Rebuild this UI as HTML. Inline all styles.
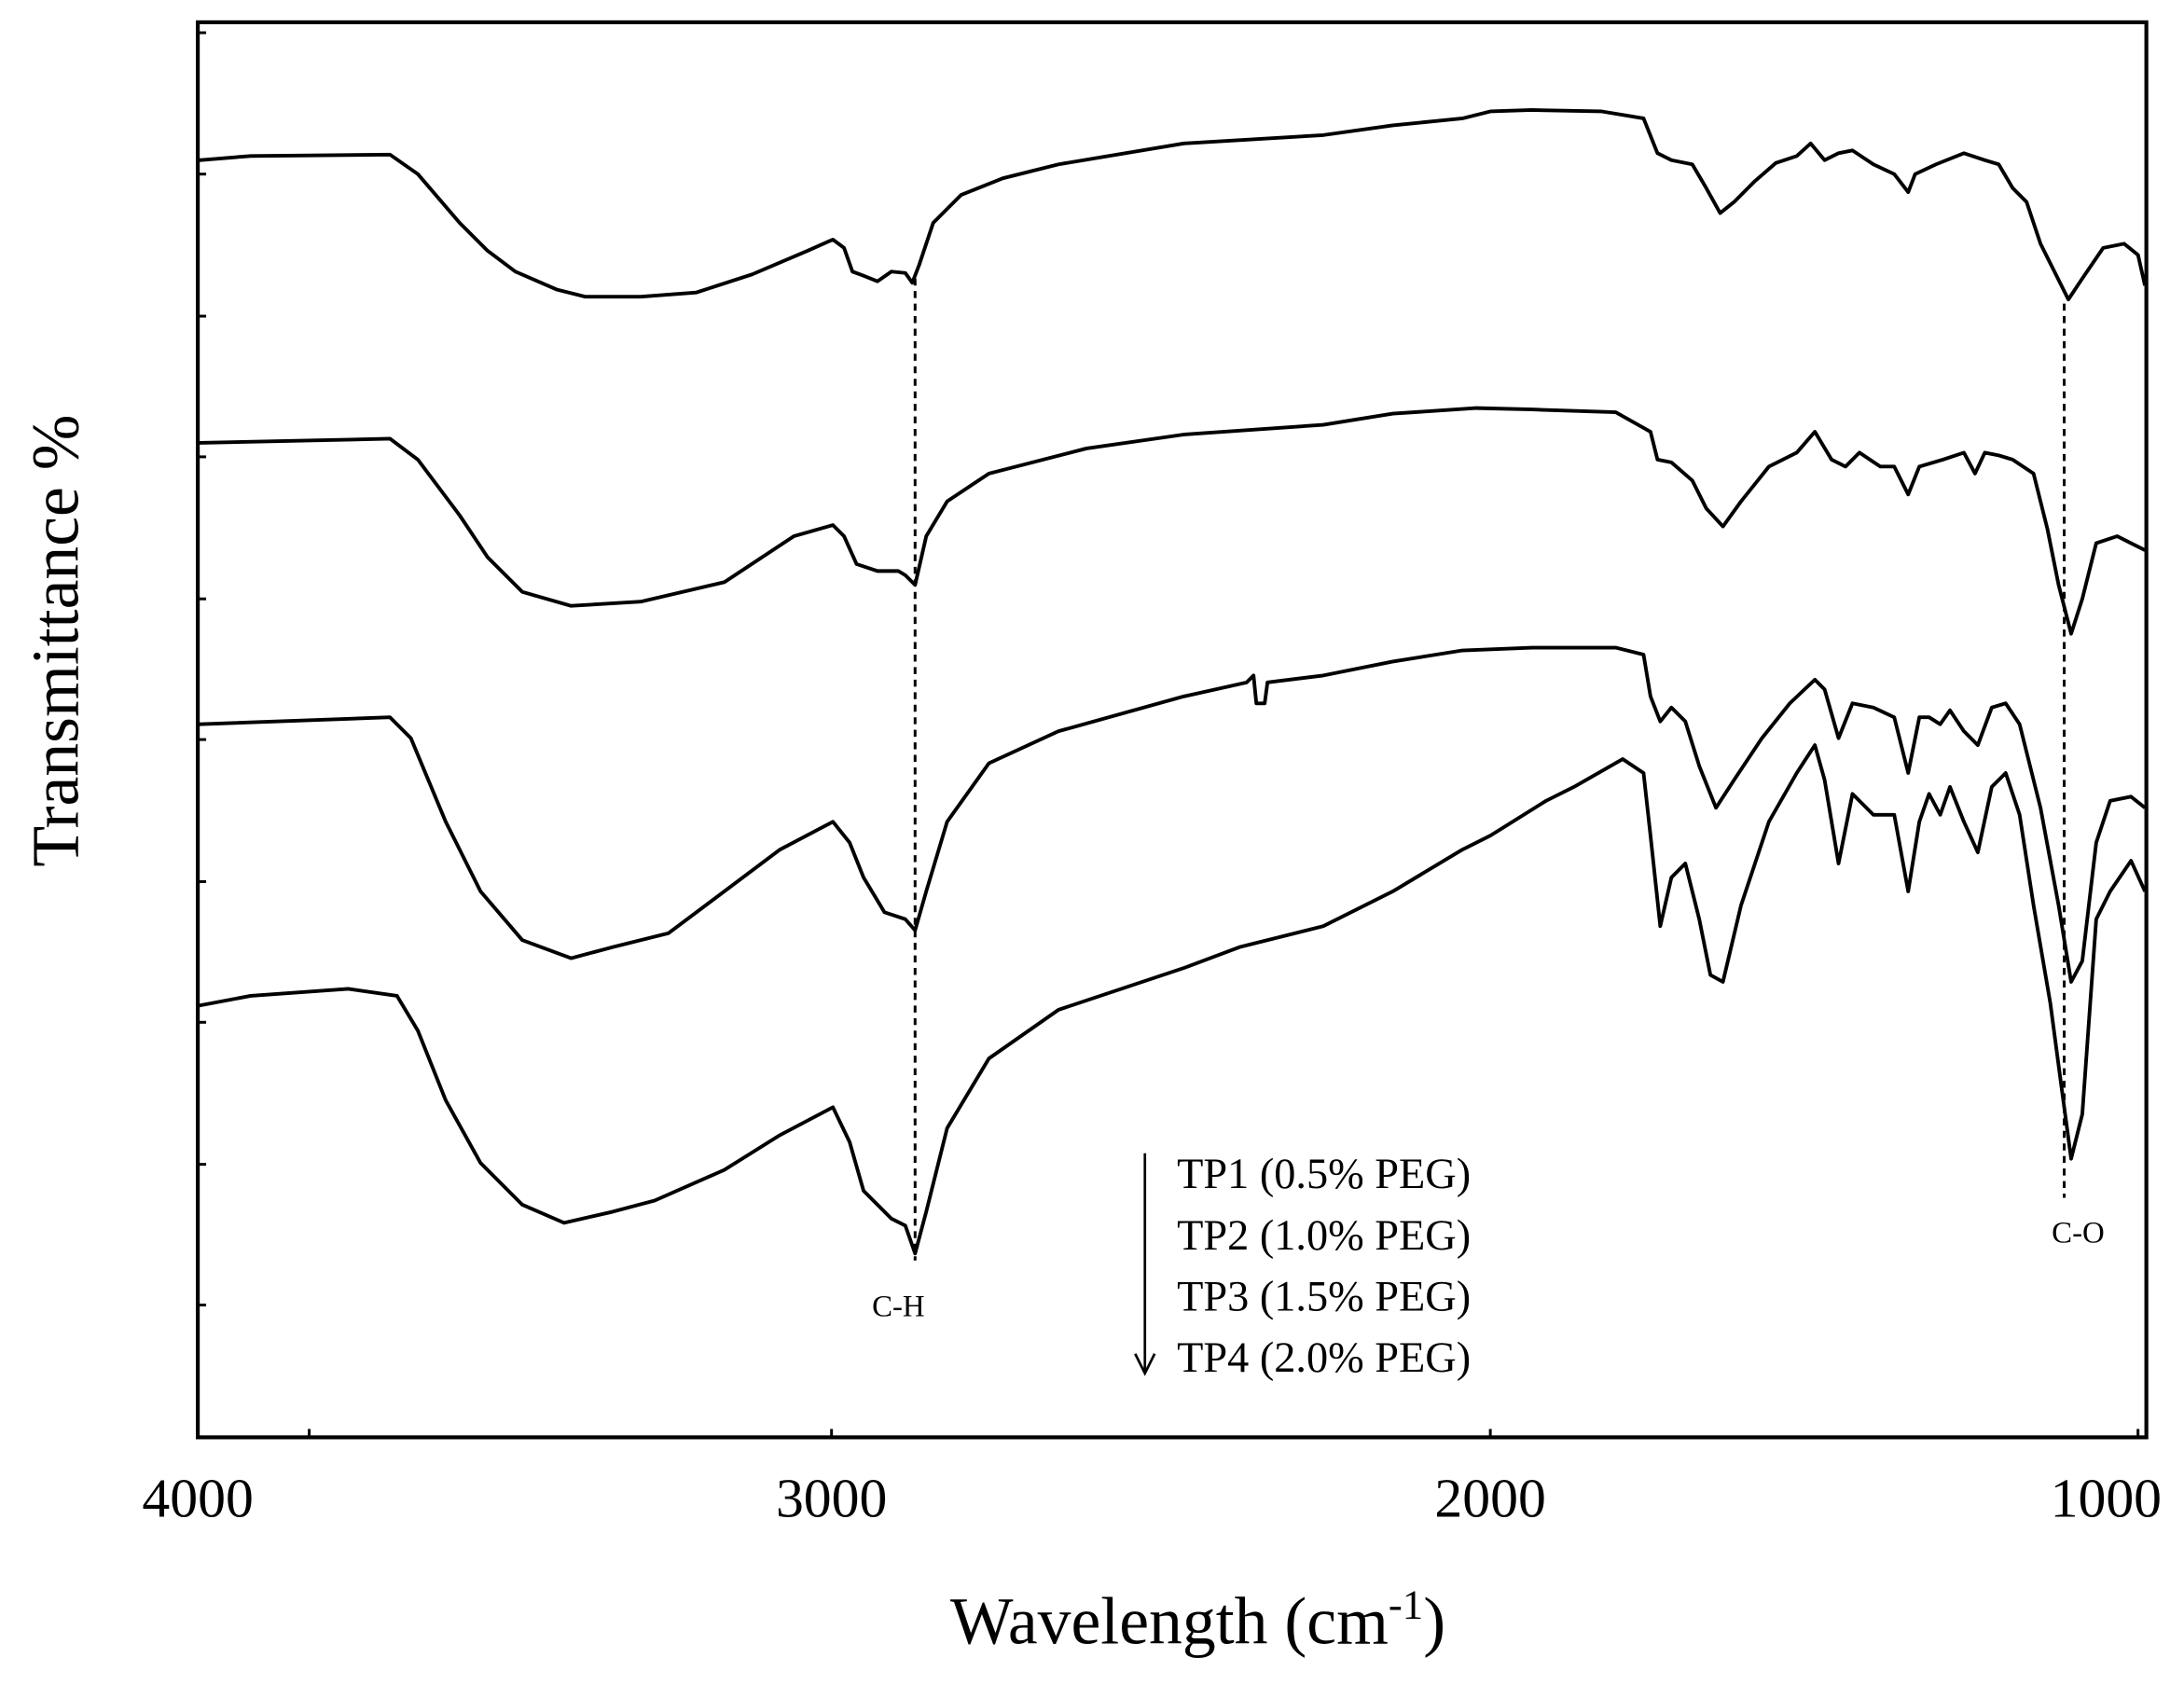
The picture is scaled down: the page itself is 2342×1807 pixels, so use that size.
<!DOCTYPE html>
<html><head><meta charset="utf-8"><style>html,body{margin:0;padding:0;background:#fff}svg{display:block}</style></head>
<body>
<svg width="2342" height="1807" viewBox="0 0 2342 1807" xmlns="http://www.w3.org/2000/svg">
<rect width="2342" height="1807" fill="#fff"/>
<g transform="scale(1.4936)" font-family="'Liberation Serif', serif" fill="#000">
<rect x="142" y="16" width="1399" height="1016" fill="none" stroke="#000" stroke-width="2.8"/>
<g stroke="#000" stroke-width="2">
<line x1="142" y1="23.5" x2="148" y2="23.5"/><line x1="142" y1="125" x2="148" y2="125"/><line x1="142" y1="227" x2="148" y2="227"/><line x1="142" y1="328" x2="148" y2="328"/><line x1="142" y1="430" x2="148" y2="430"/><line x1="142" y1="531" x2="148" y2="531"/><line x1="142" y1="633" x2="148" y2="633"/><line x1="142" y1="734" x2="148" y2="734"/><line x1="142" y1="836" x2="148" y2="836"/><line x1="142" y1="937" x2="148" y2="937"/>
<line x1="597" y1="1032" x2="597" y2="1026"/><line x1="1070" y1="1032" x2="1070" y2="1026"/><line x1="1535" y1="1032" x2="1535" y2="1026"/><line x1="222" y1="1032" x2="222" y2="1026"/>
</g>
<g font-size="40" text-anchor="middle">
<text x="142" y="1089">4000</text><text x="597" y="1089">3000</text><text x="1070" y="1089">2000</text><text x="1512" y="1089">1000</text>
</g>
<text x="860" y="1180" font-size="48" text-anchor="middle">Wavelength (cm<tspan font-size="30" dy="-18">-1</tspan><tspan dy="18">)</tspan></text>
<text transform="translate(56,460) rotate(-90)" font-size="48" text-anchor="middle">Transmittance  %</text>
<g fill="none" stroke="#000" stroke-width="2.6" stroke-linejoin="round">
<polyline points="143,115 180,112 280,111 300,125 330,160 350,180 370,195 400,208 420,213 460,213 500,210 540,197 580,180 598,172 606,178 612,195 620,198 630,202 640,195 650,196 655,203 660,190 670,160 690,140 720,128 760,118 850,103 950,97 1000,90 1050,85 1070,80 1100,79 1150,80 1180,85 1190,110 1200,115 1215,118 1225,135 1235,153 1245,145 1260,130 1275,117 1290,112 1300,103 1310,115 1320,110 1330,108 1345,118 1360,125 1370,138 1375,125 1390,118 1410,110 1425,115 1435,118 1445,135 1455,145 1465,175 1475,195 1485,215 1495,200 1510,178 1525,175 1535,183 1540,205"/>
<polyline points="143,318 280,315 300,330 330,370 350,400 375,425 410,435 460,432 520,418 570,385 598,377 606,385 615,405 630,410 645,410 650,413 657,420 665,385 680,360 710,340 780,322 850,312 950,305 1000,297 1060,293 1100,294 1160,296 1185,310 1190,330 1200,332 1215,345 1225,365 1237,378 1250,360 1270,335 1290,325 1303,310 1315,330 1325,335 1335,325 1350,335 1360,335 1370,355 1378,335 1395,330 1410,325 1418,340 1425,325 1435,327 1445,330 1460,340 1470,380 1478,420 1487,455 1495,430 1505,390 1520,385 1540,395"/>
<polyline points="143,520 280,515 295,530 320,590 345,640 375,675 410,688 440,680 480,670 520,640 560,610 598,590 610,605 620,630 635,655 650,660 657,668 665,640 680,590 710,548 760,525 850,500 895,490 900,485 902,505 908,505 910,490 950,485 1000,475 1050,467 1100,465 1160,465 1180,470 1185,500 1192,518 1200,508 1210,518 1220,550 1232,580 1245,560 1265,530 1285,505 1303,488 1310,495 1320,530 1330,505 1345,508 1360,515 1370,555 1378,515 1385,515 1393,520 1400,510 1410,525 1420,535 1430,508 1440,505 1450,520 1465,580 1478,650 1487,705 1495,690 1505,605 1515,575 1530,572 1540,580"/>
<polyline points="143,722 180,715 250,710 285,715 300,740 320,790 345,835 375,865 405,878 440,870 470,862 520,840 560,815 598,795 610,820 620,855 640,875 650,880 657,900 665,870 680,810 710,760 760,725 850,695 890,680 950,665 1000,640 1050,610 1070,600 1110,575 1130,565 1165,545 1180,555 1185,600 1192,665 1200,630 1210,620 1220,660 1228,700 1237,705 1250,650 1270,590 1290,555 1303,535 1310,560 1320,620 1330,570 1345,585 1360,585 1370,640 1378,590 1385,570 1393,585 1400,565 1410,590 1420,612 1430,565 1440,555 1450,585 1460,650 1472,720 1480,780 1487,832 1495,800 1505,660 1515,640 1530,618 1540,640"/>
</g>
<g stroke="#000" stroke-width="2" stroke-dasharray="5,4">
<line x1="657" y1="200" x2="657" y2="905"/><line x1="1482" y1="218" x2="1482" y2="860"/>
</g>
<text x="645" y="945" font-size="22" text-anchor="middle">C-H</text>
<text x="1492" y="892" font-size="22" text-anchor="middle">C-O</text>
<g stroke="#000" stroke-width="1.8" fill="none"><line x1="822" y1="828" x2="822" y2="985"/><polyline points="815,972 822,986 829,972"/></g>
<g font-size="31">
<text x="845" y="853">TP1  (0.5% PEG)</text>
<text x="845" y="897">TP2  (1.0% PEG)</text>
<text x="845" y="941">TP3  (1.5% PEG)</text>
<text x="845" y="985">TP4  (2.0% PEG)</text>
</g>
</g>
</svg>
</body></html>
